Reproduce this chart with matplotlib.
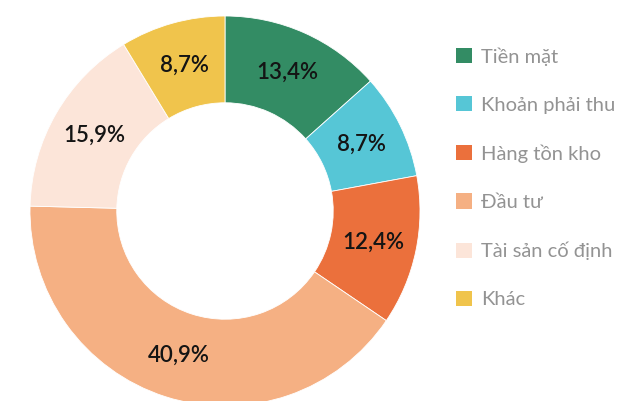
import matplotlib
matplotlib.use("Agg")
import matplotlib.pyplot as plt
from matplotlib.patches import Patch
import numpy as np

categories = ["Tiền mặt", "Khoản phải thu", "Hàng tồn kho", "Đầu tư", "Tài sản cố định", "Khác"]
values = [13.4, 8.7, 12.4, 40.9, 15.9, 8.7]
colors = ["#338c64", "#56c6d6", "#eb703c", "#f5b083", "#fce5d9", "#f0c44c"]

plt.rcParams['font.family'] = ['Lato', 'DejaVu Sans']

fig = plt.figure(figsize=(6.29, 4.01), dpi=100)
W, H = 629, 401
cx, cy, R = 225, 211, 195
ax = fig.add_axes([(cx - R) / W, (H - cy - R) / H, 2 * R / W, 2 * R / H])

labels_pct = [f"{v:.1f}%".replace('.', ',') for v in values]
wedges, _ = ax.pie(values, colors=colors, startangle=90, counterclock=False,
                   radius=1, wedgeprops=dict(width=0.445, edgecolor='white', linewidth=0.6))
ax.set_xlim(-1, 1)
ax.set_ylim(-1, 1)
ax.set_aspect('equal')
ax.axis('off')
total = sum(values)
cum = 0
for v, lab in zip(values, labels_pct):
    mid = 90 - (cum + v / 2) / total * 360
    cum += v
    r = 0.777
    ax.text(r * np.cos(np.radians(mid)), r * np.sin(np.radians(mid)), lab,
            ha='center', va='center', fontsize=16, color='#141414', fontweight='semibold')

handles = [Patch(facecolor=c, edgecolor='none') for c in colors]
leg = fig.legend(handles, categories, loc='upper left',
                 bbox_to_anchor=(448 / W, 1 - 39 / H), frameon=False,
                 fontsize=14.5, labelcolor='#939393', handlelength=0.78, handleheight=0.78,
                 handletextpad=0.45, labelspacing=1.52, borderaxespad=0)
fig.savefig("out.png", dpi=100)
